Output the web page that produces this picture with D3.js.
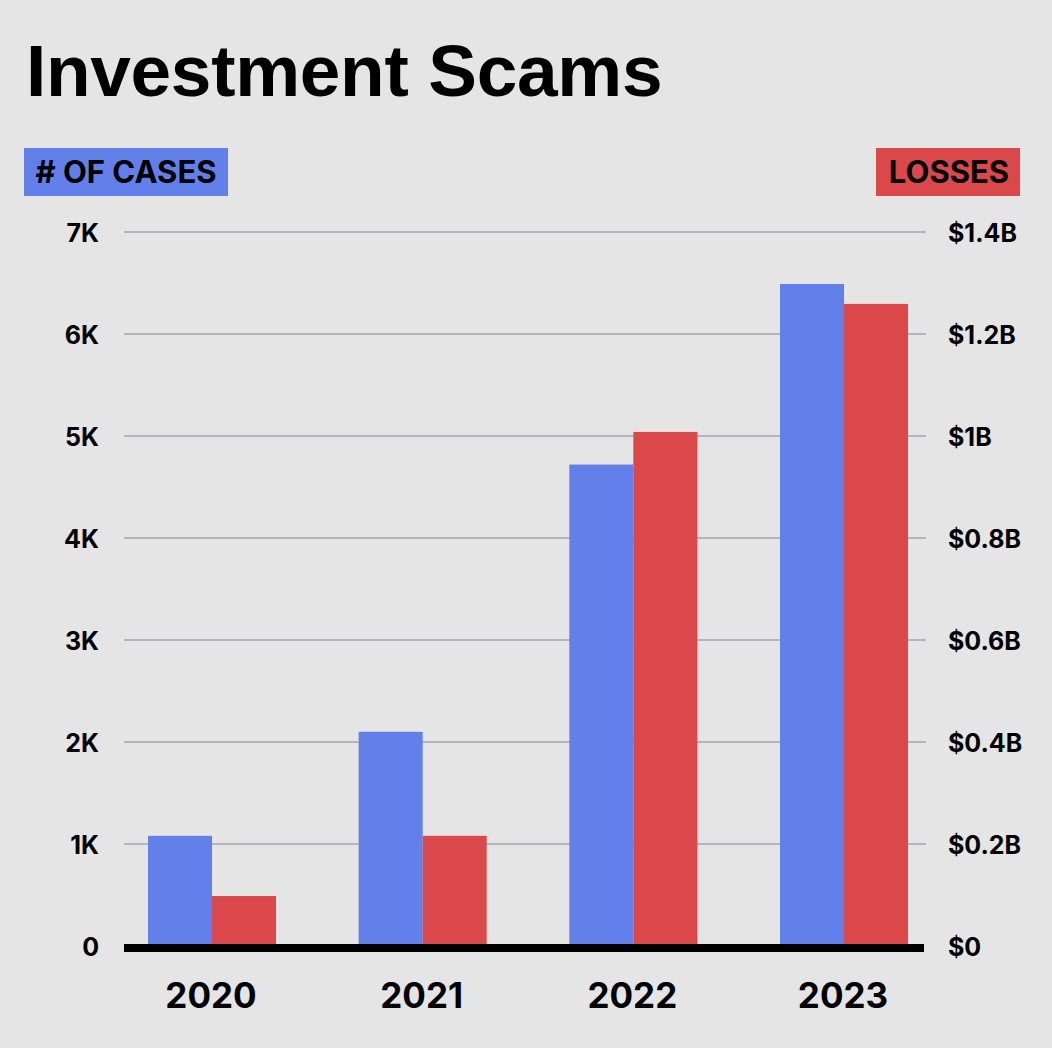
<!DOCTYPE html>
<html><head><meta charset="utf-8">
<script src="https://cdn.jsdelivr.net/npm/d3@7"></script>
<style>
html,body{margin:0;padding:0;background:#e5e5e5;}
svg{display:block;}
text{font-family:Inter,"Liberation Sans",sans-serif;font-weight:700;fill:#000;}
</style></head><body>
<svg id="c" width="1052" height="1048"></svg>
<script>
const years = ["2020","2021","2022","2023"];
const cases = [1080, 2100, 4720, 6490];          // number of cases
const losses = [0.098, 0.216, 1.008, 1.259];      // $ billions
const caseTicks = [0,1000,2000,3000,4000,5000,6000,7000];
const caseTickLabels = ["0","1K","2K","3K","4K","5K","6K","7K"];
const lossTicks = [0,0.2,0.4,0.6,0.8,1.0,1.2,1.4];
const lossTickLabels = ["$0","$0.2B","$0.4B","$0.6B","$0.8B","$1B","$1.2B","$1.4B"];

const BLUE = "#637fe9", RED = "#db484b";
const svg = d3.select("#c");
svg.append("rect").attr("width",1052).attr("height",1048).attr("fill","#e5e5e5");

const x = d3.scaleBand().domain(years).range([106.67,949.33]).paddingInner(0.3924).paddingOuter(0.1962);
const xs = d3.scaleBand().domain(["cases","losses"]).range([0,x.bandwidth()]);
const yL = d3.scaleLinear().domain([0,7000]).range([946,232]);
const yR = d3.scaleLinear().domain([0,1.4]).range([946,232]);

// title
svg.append("text").attr("x",26).attr("y",96).attr("font-size",73)
  .style("font-family","'Liberation Sans',Arial,sans-serif").style("letter-spacing","-0.3px")
  .text("Investment Scams");

// legend boxes
const lg1 = svg.append("g");
lg1.append("rect").attr("x",24).attr("y",148).attr("width",204).attr("height",48).attr("fill",BLUE);
lg1.append("text").attr("x",126).attr("y",183).attr("text-anchor","middle").attr("font-size",31)
  .text("# OF CASES");
const lg2 = svg.append("g");
lg2.append("rect").attr("x",876).attr("y",148).attr("width",144).attr("height",48).attr("fill",RED);
lg2.append("text").attr("x",949).attr("y",183).attr("text-anchor","middle").attr("font-size",31)
  .text("LOSSES");

// gridlines
const grid = svg.append("g");
grid.selectAll("line").data(caseTicks.filter(d=>d>0)).join("line")
  .attr("x1",124).attr("x2",926).attr("y1",d=>yL(d)).attr("y2",d=>yL(d))
  .attr("stroke","#b4b4be").attr("stroke-width",2);

// left axis
const axL = d3.axisLeft(yL).tickValues(caseTicks).tickFormat((d,i)=>caseTickLabels[i]).tickSize(0).tickPadding(0);
const gL = svg.append("g").attr("transform","translate(99,0)").call(axL);
gL.select(".domain").remove();
gL.selectAll("text").attr("font-size",25).style("font-family","Inter,sans-serif").attr("fill","#000").attr("dy","0.36em");

// right axis
const axR = d3.axisRight(yR).tickValues(lossTicks).tickFormat((d,i)=>lossTickLabels[i]).tickSize(0).tickPadding(0);
const gR = svg.append("g").attr("transform","translate(948,0)").call(axR);
gR.select(".domain").remove();
gR.selectAll("text").attr("font-size",25).style("font-family","Inter,sans-serif").attr("fill","#000").attr("dy","0.36em");

// bars
const groups = svg.append("g").selectAll("g").data(years).join("g")
  .attr("transform",d=>`translate(${x(d)},0)`);
groups.append("rect").attr("x",xs("cases")).attr("width",xs.bandwidth())
  .attr("y",(d,i)=>yL(cases[i])).attr("height",(d,i)=>yL(0)-yL(cases[i])).attr("fill",BLUE);
groups.append("rect").attr("x",xs("losses")).attr("width",xs.bandwidth())
  .attr("y",(d,i)=>yR(losses[i])).attr("height",(d,i)=>yR(0)-yR(losses[i])).attr("fill",RED);

// baseline
svg.append("rect").attr("x",124).attr("y",944).attr("width",800).attr("height",8).attr("fill","#000");

// x axis labels
const axB = d3.axisBottom(x).tickSize(0).tickPadding(0);
const gB = svg.append("g").attr("transform","translate(-1,1008)").call(axB);
gB.select(".domain").remove();
gB.selectAll("text").attr("font-size",35).style("font-family","Inter,sans-serif").attr("fill","#000").attr("dy","0");
</script>
</body></html>
